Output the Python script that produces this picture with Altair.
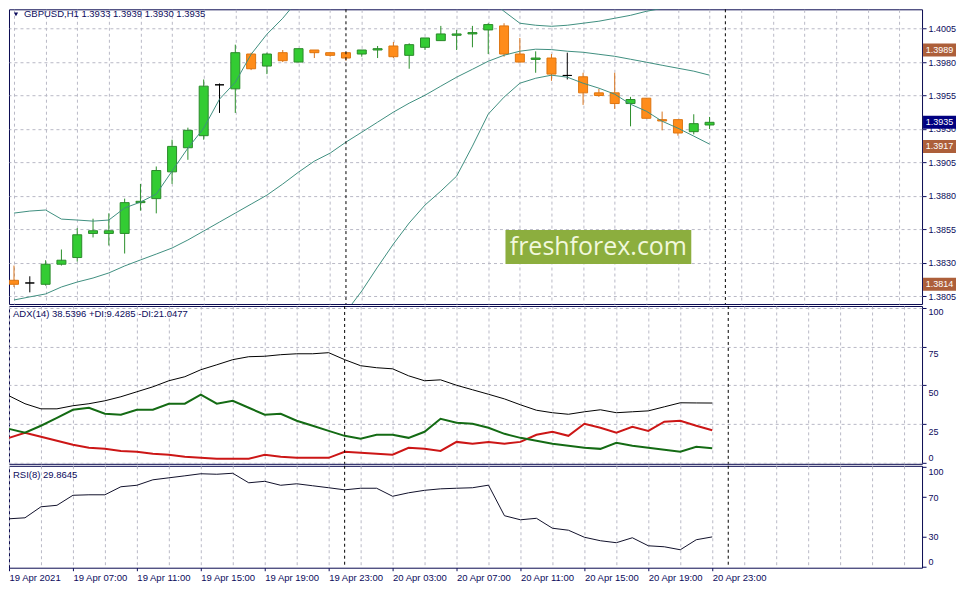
import json
import pandas as pd
import altair as alt

# ---------------- data ----------------
time_labels = ["19 Apr 2021", "19 Apr 07:00", "19 Apr 11:00", "19 Apr 15:00",
               "19 Apr 19:00", "19 Apr 23:00", "20 Apr 03:00", "20 Apr 07:00",
               "20 Apr 11:00", "20 Apr 15:00", "20 Apr 19:00", "20 Apr 23:00"]

opens = [1.3817, 1.3815, 1.3814, 1.3829, 1.3834, 1.3852, 1.3852, 1.3852, 1.3875, 1.3878,
         1.3898, 1.3916, 1.3925, 1.3963, 1.3960, 1.3986, 1.3977, 1.3987, 1.3980, 1.3989,
         1.3987, 1.3987, 1.3986, 1.3989, 1.3992, 1.3985, 1.3991, 1.3996, 1.4000, 1.4001,
         1.4004, 1.4007, 1.3986, 1.3982, 1.3983, 1.3970, 1.3969, 1.3957, 1.3957, 1.3949,
         1.3953, 1.3937, 1.3937, 1.3928, 1.3933]
highs = [1.3828, 1.3820, 1.3832, 1.3840, 1.3856, 1.3863, 1.3867, 1.3878, 1.3889, 1.3902,
         1.3922, 1.3931, 1.3967, 1.3964, 1.3993, 1.3987, 1.3987, 1.3989, 1.3990, 1.3989,
         1.3987, 1.3987, 1.3989, 1.3992, 1.3995, 1.3994, 1.3998, 1.4007, 1.4004, 1.4007,
         1.4009, 1.4009, 1.3998, 1.3988, 1.3986, 1.3987, 1.3972, 1.3960, 1.3972, 1.3954,
         1.3953, 1.3943, 1.3937, 1.3941, 1.3939]
lows = [1.3812, 1.3808, 1.3813, 1.3828, 1.3831, 1.3849, 1.3843, 1.3837, 1.3869, 1.3867,
        1.3889, 1.3907, 1.3922, 1.3942, 1.3942, 1.3974, 1.3971, 1.3980, 1.3980, 1.3983,
        1.3984, 1.3981, 1.3984, 1.3983, 1.3983, 1.3975, 1.3989, 1.3996, 1.3989, 1.3991,
        1.3986, 1.3984, 1.3980, 1.3972, 1.3966, 1.3967, 1.3948, 1.3954, 1.3945, 1.3932,
        1.3938, 1.3929, 1.3925, 1.3926, 1.3930]
closes = [1.3814, 1.3815, 1.3829, 1.3832, 1.3851, 1.3854, 1.3854, 1.3875, 1.3876, 1.3899,
          1.3917, 1.3929, 1.3962, 1.3963, 1.3987, 1.3975, 1.3986, 1.3981, 1.3990, 1.3987,
          1.3985, 1.3983, 1.3989, 1.3990, 1.3984, 1.3993, 1.3998, 1.4001, 1.4001, 1.4002,
          1.4008, 1.3986, 1.3980, 1.3983, 1.3971, 1.3970, 1.3957, 1.3955, 1.3949, 1.3952,
          1.3938, 1.3936, 1.3927, 1.3934, 1.3935]

bb_upper = [1.38672, 1.38687, 1.38695, 1.38627, 1.38620, 1.38612, 1.38620, 1.38710, 1.38754, 1.38814,
            1.38986, 1.39157, 1.39306, 1.39523, 1.39649, 1.39858, 1.40008, 1.40127, 1.40269, 1.40366,
            1.40463, 1.40470, 1.40463, 1.40433, 1.40410, 1.40388, 1.40373, 1.40403, 1.40425, 1.40321,
            1.40276, 1.40179, 1.40090, 1.40075, 1.40067, 1.40075, 1.40090, 1.40105, 1.40127, 1.40149,
            1.40179, 1.40201, 1.40224, 1.40239, 1.40254]
bb_middle = [1.38023, 1.38046, 1.38068, 1.38120, 1.38157, 1.38187, 1.38225, 1.38277, 1.38322, 1.38366,
             1.38411, 1.38471, 1.38538, 1.38605, 1.38672, 1.38739, 1.38806, 1.38889, 1.38978, 1.39060,
             1.39120, 1.39202, 1.39276, 1.39351, 1.39426, 1.39493, 1.39552, 1.39620, 1.39687, 1.39746,
             1.39806, 1.39851, 1.39881, 1.39896, 1.39893, 1.39881, 1.39873, 1.39858, 1.39843, 1.39821,
             1.39799, 1.39776, 1.39754, 1.39732, 1.39702]
bb_lower = [None] * 20 + [
             1.37777, 1.37934, 1.38090, 1.38269, 1.38441, 1.38598, 1.38732, 1.38836, 1.38948, 1.39172,
             1.39411, 1.39538, 1.39642, 1.39679, 1.39702, 1.39687, 1.39642, 1.39605, 1.39560, 1.39485,
             1.39433, 1.39358, 1.39306, 1.39247, 1.39187]

adx = [43.2, 38.1, 34.8, 34.8, 36.8, 38.1, 40.0, 42.6, 45.8, 49.0,
       52.9, 55.5, 60.0, 63.2, 66.5, 68.4, 68.7, 69.7, 70.3, 70.3,
       71.0, 66.5, 62.6, 61.3, 60.6, 56.1, 52.9, 53.5, 50.0, 47.1,
       44.2, 41.2, 37.4, 33.9, 32.3, 31.3, 32.9, 34.2, 32.3, 32.9,
       33.5, 36.1, 38.7, 38.6, 38.54]
plus_di = [21.9, 19.4, 23.9, 29.0, 34.2, 35.5, 31.6, 31.0, 34.2, 34.2,
           38.1, 38.1, 43.9, 38.1, 40.0, 35.5, 31.0, 31.6, 27.1, 23.9,
           20.6, 17.4, 15.5, 18.1, 18.1, 16.1, 20.0, 28.4, 25.8, 25.2,
           22.6, 18.7, 16.1, 14.2, 12.3, 11.0, 9.7, 9.0, 12.9, 11.0,
           9.7, 8.4, 7.1, 10.3, 9.43]
minus_di = [16.1, 19.4, 16.8, 14.2, 11.6, 9.7, 9.0, 7.7, 7.1, 5.8,
            5.2, 3.9, 3.2, 2.6, 2.6, 2.6, 5.2, 3.9, 3.2, 3.2,
            3.2, 7.1, 6.5, 5.8, 5.2, 9.7, 9.0, 7.7, 13.5, 12.3,
            13.5, 12.3, 13.5, 18.1, 20.0, 17.4, 25.2, 22.6, 19.4, 23.2,
            20.6, 26.5, 27.1, 23.9, 21.05]
rsi = [48.1, 49.1, 60.2, 61.7, 71.8, 72.3, 72.3, 80.4, 81.9, 87.4,
       89.4, 91.4, 93.5, 93.0, 94.0, 84.4, 85.9, 81.9, 83.4, 81.4,
       79.4, 77.3, 78.9, 78.9, 70.8, 74.3, 76.8, 78.3, 78.9, 79.4,
       82.0, 51.2, 47.1, 48.6, 38.6, 36.6, 29.5, 26.0, 24.0, 29.0,
       20.9, 19.9, 16.9, 27.0, 29.86]

level_prices = [1.3989, 1.3917, 1.3814]
bid_price = 1.3935
price_ticks = [1.3805, 1.3830, 1.3855, 1.3880, 1.3905, 1.3930, 1.3955, 1.3980, 1.4005]
adx_ticks = [0, 25, 50, 75, 100]
rsi_ticks = [0, 30, 70, 100]
rsi_levels = [30, 70]
day_separators = [21, 45]

title_price = "GBPUSD,H1  1.3933 1.3939 1.3930 1.3935"
title_adx = "ADX(14) 38.5396 +DI:9.4285 -DI:21.0477"
title_rsi = "RSI(8) 29.8645"
watermark = "freshforex.com"

# ---------------- styling ----------------
FONT = "Liberation Sans"
NAVY = "#0b0b5c"
BORDER = "#0a0a50"
GRID = "#b9b9c6"
BROWN = "#a3603c"
BROWN_BOX = "#ad5f3a"
BID_BOX = "#000080"
W = 914
H_PRICE, H_ADX, H_RSI = 295, 158, 102
X_MAX = 57.125

n = len(opens)
idx = list(range(n))
kind = ["up" if c > o else ("down" if c < o else "doji") for o, c in zip(opens, closes)]
candles = pd.DataFrame({"i": idx, "open": opens, "high": highs, "low": lows,
                        "close": closes, "kind": kind})
bands = pd.DataFrame({"i": idx, "upper": bb_upper, "middle": bb_middle, "lower": bb_lower})
ind = pd.DataFrame({"i": idx, "adx": adx, "pdi": plus_di, "mdi": minus_di, "rsi": rsi})
lv_df = pd.DataFrame({"price": level_prices})
bid_df = pd.DataFrame({"price": [bid_price]})
seps = pd.DataFrame({"i": day_separators})
rsi_lv = pd.DataFrame({"v": rsi_levels})

xscale = alt.Scale(domain=[0, X_MAX], nice=False, zero=False)
grid_vals = list(range(0, 57, 2))
last_label = 4 * (len(time_labels) - 1)


def x_axis(bottom=False):
    common = dict(values=grid_vals, grid=True, gridColor=GRID, gridDash=[3, 3],
                  gridWidth=1, domain=False, title=None, zindex=0)
    if not bottom:
        return alt.Axis(labels=False, ticks=False, **common)
    expr = "datum.value %% 4 == 0 && datum.value <= %d ? %s[datum.value / 4] : ''" % (
        last_label, json.dumps(time_labels))
    return alt.Axis(labels=True, ticks=True, tickSize=3, tickColor=NAVY,
                    tickOpacity={"condition": {"test": "datum.value %% 4 == 0 && datum.value <= %d" % last_label,
                                               "value": 1}, "value": 0},
                    labelExpr=expr, labelAlign="left", labelBaseline="top", labelPadding=2,
                    labelFont=FONT, labelFontSize=9.5, labelColor=NAVY,
                    labelOverlap=False, labelFlush=False, labelBound=False, **common)


def X(bottom=False):
    return alt.X("i:Q", scale=xscale, axis=x_axis(bottom), title=None)


def text_layer(txt, x, y, size=9.5, color=NAVY, font=FONT, align="left"):
    return alt.Chart(pd.DataFrame({"t": [txt]})).mark_text(
        align=align, baseline="middle", font=font, fontSize=size, color=color
    ).encode(x=alt.value(x), y=alt.value(y), text="t:N")


# ---------------- price panel ----------------
price_scale = alt.Scale(domain=[1.37993, 1.40194], nice=False, zero=False)
price_axis = alt.Axis(orient="right", values=price_ticks, format=".4f", title=None,
                      grid=True, gridColor=GRID, gridDash=[3, 3], domain=False,
                      tickSize=4, tickColor=NAVY, labelColor=NAVY, labelFont=FONT,
                      labelFontSize=9, labelPadding=2, zindex=0,
                      labelOverlap=False, labelFlush=False)


def PY(field):
    return alt.Y(field, type="quantitative", scale=price_scale, axis=price_axis, title=None)


wm_box = alt.Chart(pd.DataFrame({"t": [watermark]})).mark_rect(color="#8cae3e").encode(
    x=alt.value(497), x2=alt.value(683), y=alt.value(221), y2=alt.value(255))
wm_text = text_layer(watermark, 590, 238, size=25, color="#f1f8dc", font="Open Sans", align="center")

bid_line = alt.Chart(bid_df).mark_rule(color="#c4c4c4", strokeWidth=1).encode(x=X(), y=PY("price"))
level_lines = alt.Chart(lv_df).mark_rule(color=BROWN, strokeWidth=1).encode(x=X(), y=PY("price"))

wicks = alt.Chart(candles).mark_rule(strokeWidth=1, clip=True).encode(
    x=X(), y=PY("low"), y2="high",
    color=alt.Color("kind:N", scale=alt.Scale(domain=["up", "down", "doji"],
                                              range=["#2b8f2b", "#d8731c", "#000000"]), legend=None))
bodies = alt.Chart(candles).mark_bar(size=9, strokeWidth=1, clip=True).encode(
    x=X(), y=PY("open"), y2="close",
    fill=alt.Fill("kind:N", scale=alt.Scale(domain=["up", "down", "doji"],
                                            range=["#33cc33", "#ff8c1a", "#000000"]), legend=None),
    stroke=alt.Stroke("kind:N", scale=alt.Scale(domain=["up", "down", "doji"],
                                                range=["#2a8a2a", "#dd7410", "#000000"]), legend=None))

band_lines = alt.Chart(bands).transform_fold(["upper", "middle", "lower"], as_=["band", "val"]).mark_line(
    color="#3f8f80", strokeWidth=1, clip=True).encode(
    x=X(), y=PY("val"), detail="band:N")

sep_price = alt.Chart(seps).mark_rule(color="#000000", strokeDash=[3, 3], strokeWidth=1).encode(x=X())

box_shape = "M-1,-0.394L1,-0.394L1,0.394L-1,0.394Z"


def price_tag(df, box_color):
    box = alt.Chart(df).mark_point(shape=box_shape, filled=True, size=1089, opacity=1,
                                   strokeWidth=0, color=box_color).encode(
        x=alt.value(931.5), y=PY("price"))
    txt = alt.Chart(df).mark_text(color="white", font=FONT, fontSize=9, align="center",
                                  baseline="middle").encode(
        x=alt.value(931.5), y=PY("price"), text=alt.Text("price:Q", format=".4f"))
    return box, txt


lv_box, lv_txt = price_tag(lv_df, BROWN_BOX)
bid_box, bid_txt = price_tag(bid_df, BID_BOX)

tri = alt.Chart(pd.DataFrame({"t": ["tri"]})).mark_point(shape="triangle-down", filled=True, size=18,
                                                        color=NAVY, opacity=1).encode(
    x=alt.value(7), y=alt.value(5))
price_title = text_layer(title_price, 15, 5, size=9.5)

price_panel = alt.layer(
    bid_line, wm_box, wm_text, wicks, bodies, level_lines, band_lines, sep_price,
    lv_box, lv_txt, bid_box, bid_txt, tri, price_title
).properties(width=W, height=H_PRICE)

# ---------------- ADX panel ----------------
adx_scale = alt.Scale(domain=[-0.64, 101.1], nice=False, zero=False)
adx_axis = alt.Axis(orient="right", values=adx_ticks, title=None, grid=True, gridColor=GRID,
                    gridDash=[3, 3], domain=False, tickSize=4, tickColor=NAVY, labelColor=NAVY,
                    labelFont=FONT, labelFontSize=9, labelPadding=2, zindex=0,
                    labelOverlap=False, labelFlush=False,
                    labelBaseline={"condition": {"test": "datum.value <= 0", "value": "bottom"},
                                   "value": "top"},
                    labelOffset={"condition": {"test": "datum.value <= 0 || datum.value >= 100",
                                               "value": 0}, "value": 3})


def AY(field):
    return alt.Y(field, type="quantitative", scale=adx_scale, axis=adx_axis, title=None)


adx_line = alt.Chart(ind).mark_line(color="#000000", strokeWidth=1, clip=True).encode(x=X(), y=AY("adx"))
pdi_line = alt.Chart(ind).mark_line(color="#146b14", strokeWidth=2, clip=True).encode(x=X(), y=AY("pdi"))
mdi_line = alt.Chart(ind).mark_line(color="#cc1616", strokeWidth=2, clip=True).encode(x=X(), y=AY("mdi"))
sep_adx = alt.Chart(seps).mark_rule(color="#000000", strokeDash=[3, 3], strokeWidth=1).encode(x=X())
adx_title = text_layer(title_adx, 4, 8, size=9.5)

adx_panel = alt.layer(adx_line, mdi_line, pdi_line, sep_adx, adx_title).properties(width=W, height=H_ADX)

# ---------------- RSI panel ----------------
rsi_scale = alt.Scale(domain=[-1.2, 101.5], nice=False, zero=False)
rsi_axis = alt.Axis(orient="right", values=rsi_ticks, title=None, grid=False, domain=False,
                    tickSize=4, tickColor=NAVY, labelColor=NAVY, labelFont=FONT, labelFontSize=9,
                    labelPadding=2, zindex=0, labelOverlap=False, labelFlush=False,
                    labelBaseline={"condition": [{"test": "datum.value <= 0", "value": "bottom"},
                                                 {"test": "datum.value >= 100", "value": "top"}],
                                   "value": "middle"})


def RY(field):
    return alt.Y(field, type="quantitative", scale=rsi_scale, axis=rsi_axis, title=None)


rsi_levels_l = alt.Chart(rsi_lv).mark_rule(color="#b42424", strokeDash=[4, 3], strokeWidth=1).encode(
    x=X(True), y=RY("v"))
rsi_line = alt.Chart(ind).mark_line(color="#10102a", strokeWidth=1, clip=True).encode(x=X(True), y=RY("rsi"))
sep_rsi = alt.Chart(seps).mark_rule(color="#000000", strokeDash=[3, 3], strokeWidth=1).encode(x=X(True))
rsi_title = text_layer(title_rsi, 4, 9, size=9.5)

rsi_panel = alt.layer(rsi_levels_l, rsi_line, sep_rsi, rsi_title).properties(width=W, height=H_RSI)

chart = alt.vconcat(price_panel, adx_panel, rsi_panel, spacing=2, bounds="flush").properties(
    padding=0, background="white"
).configure_view(stroke=BORDER, strokeWidth=1)

chart.save("out.html", embed_options={"renderer": "svg", "actions": False})
